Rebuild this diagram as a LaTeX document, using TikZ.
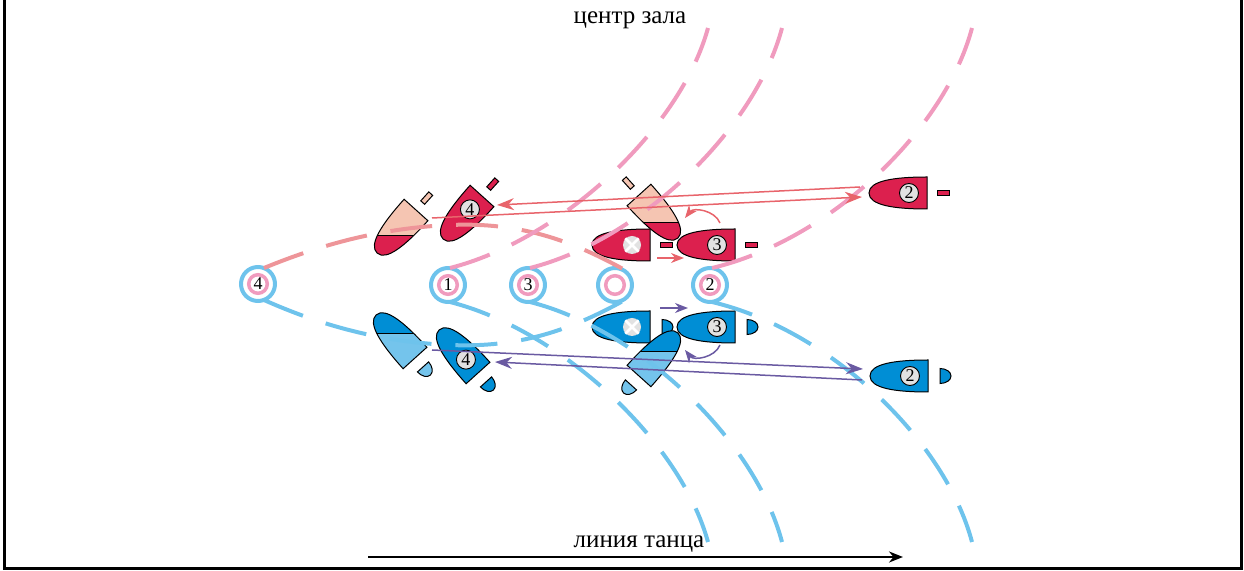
\documentclass[tikz,border=0pt]{standalone}
\usepackage{fontspec}
\setmainfont{Liberation Serif}
\usepackage{xcolor}
\usepackage{tikz}
\usetikzlibrary{calc, positioning, arrows.meta}

\definecolor{shoered}{HTML}{DC204E}
\definecolor{shoebeige}{HTML}{F5C5B2}
\definecolor{shoeblue}{HTML}{008ED5}
\definecolor{shoelightblue}{HTML}{74C4EC}
\definecolor{markgray}{HTML}{E2E2E2}
\definecolor{pathpink}{HTML}{F09BBE}
\definecolor{pathsalmon}{HTML}{EE9599}
\definecolor{pathblue}{HTML}{6EC3EC}
\definecolor{arrowred}{HTML}{E8646B}
\definecolor{arrowpurple}{HTML}{6A5AA2}

% sole: flat back at the origin, toe towards -x
\newcommand{\solepath}{(0,-16) -- (0,16) .. controls (-34,16) and (-58,12) .. (-58,0) .. controls (-58,-12) and (-34,-16) .. (0,-16) -- cycle}
\newcommand{\barheel}{(10,-2.6) rectangle (22,2.6)}
\newcommand{\roundheel}{(12,-7.5) -- (12,7.5) arc[start angle=90, end angle=-90, x radius=11, y radius=7.5] -- cycle}

% #1 position, #2 rotation, #3 fill, #4 heel, #5 mark style, #6 mark name, #7 mark text
\newcommand{\fullshoe}[7]{%
  \begin{scope}[shift={#1}, rotate=#2]
    \draw[soleline, fill=#3] \solepath;
    \draw[soleline, fill=#3] #4;
    \node[#5] (#6) at (-18,0) {#7};
  \end{scope}}

% #1 x, #2 y, #3 rotation, #4 upper fill, #5 lower fill, #6 split line y, #7 heel, #8 heel fill
\newcommand{\splitshoe}[8]{%
  \begin{scope}
    \clip[shift={(#1,#2)}, rotate=#3] \solepath;
    \fill[#4] (#1-80,#2-80) rectangle (#1+80,#6);
    \fill[#5] (#1-80,#6) rectangle (#1+80,#2+80);
    \draw[soleline] (#1-80,#6) -- (#1+80,#6);
  \end{scope}
  \draw[soleline, shift={(#1,#2)}, rotate=#3] \solepath;
  \draw[soleline, fill=#8, shift={(#1,#2)}, rotate=#3] #7;}

\begin{document}
\begin{tikzpicture}[x=0.5pt, y=-0.5pt]

	\tikzstyle{soleline}=[draw=black, line width=0.5pt]
	\tikzstyle{stepnum}=[circle, draw=black, line width=0.45pt, fill=markgray, minimum size=9.5pt, inner sep=0pt, font=\fontsize{9}{9}\selectfont]
	\tikzstyle{turnmark}=[circle, fill=markgray, minimum size=9pt, inner sep=0pt]
	\tikzstyle{markring}=[circle, draw=pathpink, line width=1.75pt, minimum size=9.3pt, inner sep=0pt, font=\fontsize{9}{9}\selectfont]
	\tikzstyle{outerring}=[draw=pathblue, line width=2pt]
	\tikzstyle{stepdash}=[line width=2pt, dash pattern=on 21pt off 12pt]
	\tikzstyle{longarrow}=[line width=0.75pt, -{Stealth[length=8.5pt, width=6pt]}]
	\tikzstyle{shortarrow}=[line width=0.75pt, -{Stealth[length=6.5pt, width=5pt]}]
	\tikzstyle{label}=[anchor=base, font=\fontsize{12.5}{14}\selectfont]

	\useasboundingbox (0,0) rectangle (1244,571);
	\draw[line width=1.5pt] (4,0) -- (4,568.5) -- (1241.5,568.5) -- (1241.5,0);

	\node[label] (centre) at (630,24) {центр зала};
	\node[label] (lod) at (639,548) {линия танца};
	\coordinate (lodstart) at (368,557);
	\coordinate (lodend) at (903,557);
	\draw[line width=1pt, -{Stealth[length=7pt, width=5.5pt]}] (lodstart) -- (lodend);

	% red steps
	\fullshoe{(927,193)}{0}{shoered}{\barheel}{stepnum}{rtwo}{2}
	\fullshoe{(735,245)}{0}{shoered}{\barheel}{stepnum}{rthree}{3}
	\fullshoe{(650,245)}{0}{shoered}{\barheel}{turnmark}{rturn}{}
	\fullshoe{(482,196)}{48}{shoered}{\barheel}{stepnum}{rfour}{4}
	\splitshoe{416}{210}{48}{shoebeige}{shoered}{236}{\barheel}{shoebeige}
	\splitshoe{639}{195}{132}{shoebeige}{shoered}{223}{\barheel}{shoebeige}

	% blue steps
	\fullshoe{(928,376)}{0}{shoeblue}{\roundheel}{stepnum}{btwo}{2}
	\fullshoe{(735,327)}{0}{shoeblue}{\roundheel}{stepnum}{bthree}{3}
	\fullshoe{(650,327)}{0}{shoeblue}{\roundheel}{turnmark}{bturn}{}
	\fullshoe{(478,373)}{-48}{shoeblue}{\roundheel}{stepnum}{bfour}{4}
	\splitshoe{415}{358}{-48}{shoeblue}{shoelightblue}{334}{\roundheel}{shoelightblue}
	\splitshoe{639}{376}{-132}{shoeblue}{shoelightblue}{352}{\roundheel}{shoelightblue}

	\foreach \m in {rturn, bturn}
		\draw[white, line width=1.4pt] (\m.45) -- (\m.225) (\m.135) -- (\m.315);

	% floor marks
	\node[markring] (mfour) at (258,284) {4};
	\node[markring] (mone) at (448,285) {1};
	\node[markring] (mthree) at (528,285) {3};
	\node[markring] (mturn) at (615,285) {};
	\node[markring] (mtwo) at (710,285) {2};
	\foreach \m in {mfour, mone, mthree, mturn, mtwo}
		\draw[outerring] (\m) circle[radius=17];

	% tracks
	\coordinate (ptopa) at (708,28);
	\coordinate (ptopb) at (782,28);
	\coordinate (ptopc) at (972,28);
	\coordinate (bbota) at (708,542);
	\coordinate (bbotb) at (782,542);
	\coordinate (bbotc) at (972,542);

	\draw[stepdash, pathsalmon] ($(mfour)+(6,-16)$) .. controls (320,245) and (380,228) .. (450,225) .. controls (520,222) and (570,240) .. ($(mturn)+(8,-16)$);
	\draw[stepdash, pathblue] ($(mfour)+(6,16)$) .. controls (320,325) and (380,342) .. (450,345) .. controls (520,348) and (570,330) .. ($(mturn)+(8,16)$);

	\draw[stepdash, pathpink] ($(mone)+(2,-17)$) .. controls (560,240) and (680,130) .. (ptopa);
	\draw[stepdash, pathpink] ($(mthree)+(2,-17)$) .. controls (640,240) and (755,130) .. (ptopb);
	\draw[stepdash, pathpink] ($(mtwo)+(2,-17)$) .. controls (830,240) and (945,130) .. (ptopc);

	\draw[stepdash, pathblue] ($(mone)+(2,17)$) .. controls (560,330) and (680,440) .. (bbota);
	\draw[stepdash, pathblue] ($(mthree)+(2,17)$) .. controls (640,330) and (755,440) .. (bbotb);
	\draw[stepdash, pathblue] ($(mtwo)+(2,17)$) .. controls (830,330) and (945,440) .. (bbotc);

	% step arrows
	\coordinate (rtwoout) at (860,187);
	\coordinate (rfourin) at (497,205);
	\coordinate (rbackout) at (432,218);
	\coordinate (rtwoin) at (862,197);
	\draw[longarrow, arrowred] (rtwoout) -- (rfourin);
	\draw[longarrow, arrowred] (rbackout) -- (rtwoin);

	\coordinate (bbackout) at (432,350);
	\coordinate (btwoin) at (863,369);
	\coordinate (btwoout) at (862,380);
	\coordinate (bfourin) at (495,362);
	\draw[longarrow, arrowpurple] (bbackout) -- (btwoin);
	\draw[longarrow, arrowpurple] (btwoout) -- (bfourin);

	\coordinate (rslidea) at (657,258);
	\coordinate (rslideb) at (684,258);
	\coordinate (rturna) at (720,223);
	\coordinate (rturnb) at (685,218);
	\draw[shortarrow, arrowred] (rslidea) -- (rslideb);
	\draw[shortarrow, arrowred] (rturna) to[bend right=60] (rturnb);

	\coordinate (bslidea) at (660,308);
	\coordinate (bslideb) at (688,308);
	\coordinate (bturna) at (720,345);
	\coordinate (bturnb) at (685,350);
	\draw[shortarrow, arrowpurple] (bslidea) -- (bslideb);
	\draw[shortarrow, arrowpurple] (bturna) to[bend left=60] (bturnb);
\end{tikzpicture}
\end{document}
